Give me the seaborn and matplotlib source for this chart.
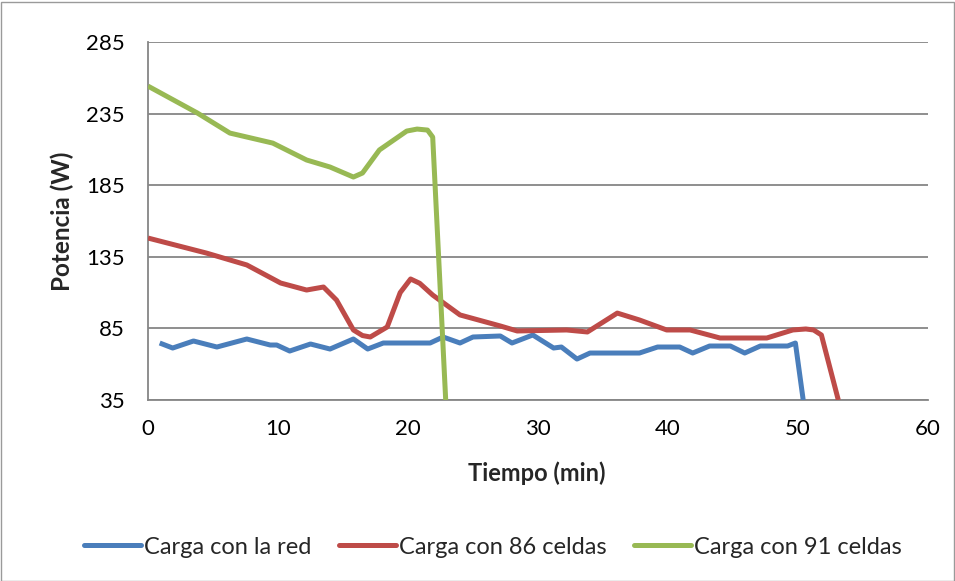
import matplotlib
matplotlib.use("Agg")
import matplotlib.pyplot as plt
import seaborn as sns
import pandas as pd
from matplotlib.patches import Rectangle
from matplotlib.lines import Line2D

# Power readings (W) against time (min) for the three charging set-ups
red_t = [0.9, 1.9, 3.5, 5.3, 7.6, 9.4, 9.9, 10.9, 12.5, 14.0, 15.8, 16.9, 18.1,
         21.7, 22.7, 24.0, 25.0, 27.1, 28.0, 29.6, 31.2, 31.8, 33.0, 34.0, 37.8,
         39.2, 40.9, 41.9, 43.2, 44.8, 45.9, 47.1, 49.2, 49.8, 50.4]
red_w = [74.8, 71.3, 76.2, 72.0, 77.6, 73.4, 73.4, 69.2, 74.1, 70.6, 77.6, 70.6, 74.8,
         74.8, 79.0, 74.8, 79.0, 79.7, 74.8, 80.4, 71.3, 72.0, 63.6, 67.8, 67.8,
         72.0, 72.0, 67.8, 72.7, 72.7, 67.8, 72.7, 72.7, 74.8, 35.0]

c86_t = [0.0, 4.5, 7.6, 10.2, 12.2, 13.5, 14.5, 15.8, 16.5, 17.1, 18.4, 19.4, 20.2,
         20.9, 21.9, 24.0, 27.1, 28.4, 32.2, 33.8, 36.1, 37.8, 39.9, 41.7, 44.0,
         47.6, 49.6, 50.6, 51.2, 51.8, 53.1]
c86_w = [148.1, 137.6, 129.3, 116.7, 111.8, 113.9, 104.8, 83.9, 80.0, 79.0, 86.0,
         110.0, 119.5, 116.5, 108.3, 94.4, 86.7, 83.2, 83.9, 82.5, 95.7, 90.9, 83.9,
         83.9, 78.3, 78.3, 83.9, 84.6, 83.9, 80.4, 35.0]

c91_t = [0.0, 3.8, 6.3, 9.6, 12.2, 14.0, 15.8, 16.5, 17.8, 19.9, 20.7, 21.5, 21.9,
         22.9]
c91_w = [254.2, 235.4, 221.4, 214.4, 202.6, 197.7, 190.7, 193.5, 209.6, 222.8,
         224.2, 223.5, 218.6, 35.0]

series = ["Carga con la red", "Carga con 86 celdas", "Carga con 91 celdas"]
colors = ["#4A7EBB", "#BE4B48", "#98B954"]

x_ticks = [0, 10, 20, 30, 40, 50, 60]
y_ticks = [35, 85, 135, 185, 235, 285]

frames = []
for name, t, w in zip(series, [red_t, c86_t, c91_t], [red_w, c86_w, c91_w]):
    frames.append(pd.DataFrame({"Tiempo": t, "Potencia": w, "Serie": name}))
df = pd.concat(frames, ignore_index=True)

sns.set_theme(style="white")
plt.rcParams["font.family"] = ["Lato", "DejaVu Sans"]

W, H = 955, 581
fig = plt.figure(figsize=(W / 100, H / 100), dpi=100)
ax = fig.add_axes([148 / W, 1 - 400 / H, (928 - 148) / W, (400 - 42) / H])

lw = 3.6
sns.lineplot(data=df, x="Tiempo", y="Potencia", hue="Serie", hue_order=series,
             palette=colors, sort=False, estimator=None, linewidth=lw,
             legend=False, ax=ax, zorder=3)
for line in ax.lines:
    line.set_solid_joinstyle("round")
    line.set_solid_capstyle("butt")

grid_c = "#868686"
ax.set_xlim(0, 60)
ax.set_ylim(35, 285)
ax.set_xticks(x_ticks)
ax.set_yticks(y_ticks)
ax.yaxis.grid(True, color=grid_c, linewidth=1.3)
ax.xaxis.grid(False)
ax.set_axisbelow(True)
for side in ["top", "right"]:
    ax.spines[side].set_visible(False)
for side in ["left", "bottom"]:
    ax.spines[side].set_color(grid_c)
    ax.spines[side].set_linewidth(1.3)
ax.tick_params(axis="both", direction="out", length=5.5, width=1.3, color=grid_c,
               labelsize=16, labelcolor="black")
ax.tick_params(axis="x", pad=8)
ax.tick_params(axis="y", pad=11)

ax.set_xlabel("Tiempo (min)", fontsize=17, fontweight="bold", va="center")
ax.set_ylabel("Potencia (W)", fontsize=17.5, fontweight="bold", va="center")
ax.xaxis.set_label_coords(0.5 + (537 - 538) / 780, (400 - 473) / 358)
ax.yaxis.set_label_coords((62 - 148) / 780, (400 - 221) / 358)

handles = [Line2D([0], [0], color=c, linewidth=lw) for c in colors]
fig.legend(handles, series, loc="center", bbox_to_anchor=(493 / W, 1 - 547 / H),
           ncol=3, frameon=False, fontsize=17, handlelength=2.4, handletextpad=0.15,
           columnspacing=1.15)

fig.patches.append(Rectangle((0.5 / W, 0.5 / H), (W - 2) / W, (H - 2) / H,
                             transform=fig.transFigure, fill=False,
                             edgecolor="#9A9A9A", linewidth=1.0))

fig.savefig("out.png", dpi=100, facecolor="white")
